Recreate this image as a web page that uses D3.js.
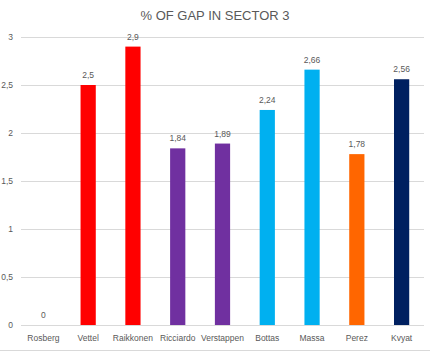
<!DOCTYPE html>
<html lang="en">
<head>
<meta charset="UTF-8">
<title>% of gap in sector 3</title>
<script src="https://d3js.org/d3.v7.min.js"></script>
<style>
  body { margin: 0; background: #fff; }
  text { font-family: "Liberation Sans", "DejaVu Sans", sans-serif; fill: #595959; }
</style>
</head>
<body>
<svg width="430" height="351"></svg>
<script>
// data
var drivers = ['Rosberg', 'Vettel', 'Raikkonen', 'Ricciardo', 'Verstappen', 'Bottas', 'Massa', 'Perez', 'Kvyat'];
var gaps = [0, 2.5, 2.9, 1.84, 1.89, 2.24, 2.66, 1.78, 2.56];
var colors = ['#FF0000', '#FF0000', '#FF0000', '#7030A0', '#7030A0', '#00B0F0', '#00B0F0', '#FF6600', '#002060'];
var ticks = [0, 0.5, 1, 1.5, 2, 2.5, 3];

var svg = d3.select('svg');
var plotLeft = 21, plotRight = 424, plotTop = 37, plotBottom = 325;

var x = d3.scaleBand().domain(drivers).range([plotLeft, plotRight]).paddingInner(0.66).paddingOuter(0.33);
var y = d3.scaleLinear().domain([0, 3]).range([plotBottom, plotTop]);

var fmt = function (v) { return String(v).replace('.', ','); };

// title
svg.append('text')
    .attr('x', 215).attr('y', 20)
    .attr('text-anchor', 'middle')
    .style('font-size', '13px')
    .text('% OF GAP IN SECTOR 3');

// gridlines
svg.append('g').selectAll('line')
    .data(ticks)
    .enter().append('line')
    .attr('x1', plotLeft).attr('x2', plotRight)
    .attr('y1', function (d) { return Math.round(y(d)) + 0.5; })
    .attr('y2', function (d) { return Math.round(y(d)) + 0.5; })
    .attr('stroke', '#d9d9d9');

// y axis labels
svg.append('g').selectAll('text')
    .data(ticks)
    .enter().append('text')
    .attr('x', 13).attr('y', function (d) { return y(d) + 3; })
    .attr('text-anchor', 'end')
    .style('font-size', '8.5px')
    .text(fmt);

// bars
svg.append('g').selectAll('rect')
    .data(gaps)
    .enter().append('rect')
    .attr('x', function (d, i) { return x(drivers[i]); })
    .attr('width', x.bandwidth())
    .attr('y', function (d) { return y(d); })
    .attr('height', function (d) { return y(0) - y(d); })
    .attr('fill', function (d, i) { return colors[i]; });

// value labels
svg.append('g').selectAll('text')
    .data(gaps)
    .enter().append('text')
    .attr('x', function (d, i) { return x(drivers[i]) + x.bandwidth() / 2; })
    .attr('y', function (d) { return y(d) - 7; })
    .attr('text-anchor', 'middle')
    .style('font-size', '8.5px')
    .text(fmt);

// category labels
svg.append('g').selectAll('text')
    .data(drivers)
    .enter().append('text')
    .attr('x', function (d) { return x(d) + x.bandwidth() / 2; })
    .attr('y', 341)
    .attr('text-anchor', 'middle')
    .style('font-size', '8.5px')
    .text(function (d) { return d; });

// bottom border
svg.append('line')
    .attr('x1', 0).attr('x2', 430).attr('y1', 350.5).attr('y2', 350.5)
    .attr('stroke', '#d9d9d9');
</script>
</body>
</html>
